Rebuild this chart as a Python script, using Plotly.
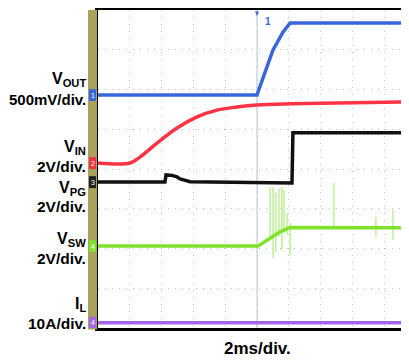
import plotly.graph_objects as go

# ---- data (x in ms at 2 ms/div, y in screen divisions 0..8) ----
vout_t = [0.0, 10.0, 10.06, 10.38, 11.0, 11.64, 12.08, 19.56]
vout_y = [5.86, 5.86, 5.93, 6.31, 6.99, 7.45, 7.67, 7.67]

vin_t = [0.0, 2.01, 2.64, 3.71, 4.97, 6.23, 7.48, 8.74, 10.0, 12.08, 19.56]
vin_y = [4.15, 4.15, 4.30, 4.65, 5.03, 5.31, 5.48, 5.56, 5.61, 5.64, 5.69]

vpg_t = [0.0, 4.21, 4.28, 4.65, 4.97, 5.16, 5.79, 12.2, 12.26, 19.56]
vpg_y = [3.67, 3.67, 3.85, 3.84, 3.80, 3.75, 3.68, 3.65, 4.91, 4.91]

vsw_t = [0.0, 10.06, 10.82, 11.45, 12.08, 19.56]
vsw_y = [2.06, 2.06, 2.26, 2.42, 2.53, 2.52]

spike_t = [10.82, 11.01, 11.19, 11.38, 11.57, 11.70, 11.89, 12.08, 14.84, 17.48, 18.55]
spike_top = [3.55, 3.55, 3.40, 3.52, 3.55, 3.47, 2.89, 2.64, 3.65, 2.79, 2.97]
spike_bot = [2.20, 1.76, 1.91, 2.30, 1.96, 2.40, 2.35, 1.84, 2.50, 2.29, 2.21]

il_t = [0.0, 10.06, 12.5, 19.56]
il_y = [0.13, 0.14, 0.14, 0.13]

labels = [("V<sub>OUT</sub>", 6.24, 16), ("500mV/div.", 5.76, 15),
          ("V<sub>IN</sub>", 4.53, 16), ("2V/div.", 4.06, 15.5),
          ("V<sub>PG</sub>", 3.51, 16), ("2V/div.", 3.05, 15.5),
          ("V<sub>SW</sub>", 2.22, 16), ("2V/div.", 1.76, 15.5),
          ("I<sub>L</sub>", 0.58, 16), ("10A/div.", 0.11, 15.5)]

markers = [("1", 5.86, "#3a66dd"), ("2", 4.15, "#ee3344"), ("3", 3.67, "#222222"),
           ("4", 2.06, "#7fe030"), ("4", 0.13, "#a666e8")]

BLUE, RED, BLACK, GREEN, PURPLE = "#3a66dd", "#ff3344", "#111111", "#80e22a", "#a666e8"

# page body has an 8px margin -> shift everything up/left by 8px
OFF = 8
L = 98 - OFF

fig = go.Figure()
sx, sy = [], []
for t, a, b in zip(spike_t, spike_top, spike_bot):
    sx += [t, t, None]
    sy += [b, a, None]
fig.add_trace(go.Scatter(x=sx, y=sy, mode="lines", line=dict(color="#9be860", width=1)))
fig.add_trace(go.Scatter(x=il_t, y=il_y, mode="lines", line=dict(color=PURPLE, width=3.5)))
fig.add_trace(go.Scatter(x=vsw_t, y=vsw_y, mode="lines", line=dict(color=GREEN, width=3.5)))
fig.add_trace(go.Scatter(x=vpg_t, y=vpg_y, mode="lines", line=dict(color=BLACK, width=3.5)))
fig.add_trace(go.Scatter(x=vin_t, y=vin_y, mode="lines", line=dict(color=RED, width=3.5, shape="spline")))
fig.add_trace(go.Scatter(x=vout_t, y=vout_y, mode="lines", line=dict(color=BLUE, width=3.5)))

W = 311.0
def px2paper(px):
    return (px - 98) / W

shapes = [
    dict(type="rect", xref="paper", yref="paper", x0=px2paper(88), x1=px2paper(97), y0=-0.005, y1=1.0,
         fillcolor="#aaa25a", line=dict(width=0), layer="above"),
    dict(type="line", xref="x", yref="paper", x0=10.0, x1=10.0, y0=0, y1=1,
         line=dict(color="#b4c2d0", width=1), layer="below"),
    dict(type="path", xref="paper", yref="paper",
         path=f"M {px2paper(255)} 0.995 L {px2paper(259)} 0.995 L {px2paper(257)} 0.98 Z",
         fillcolor=BLUE, line=dict(width=0)),
]
for txt, yv, col in markers:
    shapes.append(dict(type="rect", xref="paper", yref="y", x0=px2paper(89), x1=px2paper(96),
                       y0=yv - 0.15, y1=yv + 0.15, fillcolor=col, line=dict(width=0), layer="above"))

ann = []
for txt, yv, fs in labels:
    ann.append(dict(text=txt, xref="paper", yref="y", x=px2paper(86.5), y=yv, xanchor="right",
                    yanchor="middle", showarrow=False, borderpad=0,
                    font=dict(family="Liberation Sans, Arial", size=fs, color="black", weight="bold")))
for txt, yv, col in markers:
    ann.append(dict(text=txt, xref="paper", yref="y", x=px2paper(92.5), y=yv, xanchor="center",
                    yanchor="middle", showarrow=False, borderpad=0,
                    font=dict(family="Liberation Sans, Arial", size=7, color="white")))
ann.append(dict(text="1", xref="x", yref="paper", x=10.7, y=0.965, yanchor="middle", showarrow=False,
                font=dict(family="Liberation Sans, Arial", size=10, color=BLUE, weight="bold")))
ann.append(dict(text="2ms/div.", xref="paper", yref="paper", x=px2paper(257.5), y=-0.066,
                xanchor="center", yanchor="middle", showarrow=False, borderpad=0,
                font=dict(family="Liberation Sans, Arial", size=17, color="black", weight="bold")))

fig.update_layout(
    width=409 - OFF, height=360 - OFF,
    margin=dict(l=L, r=0, t=10 - OFF, b=32, pad=0),
    paper_bgcolor="white", plot_bgcolor="white",
    showlegend=False,
    shapes=shapes, annotations=ann,
    xaxis=dict(range=[0, 19.56], dtick=2, showticklabels=False, ticks="",
               showgrid=True, gridcolor="#c0c0c0", griddash="1px,6px", gridwidth=1,
               showline=True, linecolor="black", linewidth=3, mirror=True, zeroline=False,
               fixedrange=True),
    yaxis=dict(range=[0, 8], dtick=1, showticklabels=False, ticks="",
               showgrid=True, gridcolor="#c0c0c0", griddash="1px,6px", gridwidth=1,
               showline=True, linecolor="black", linewidth=3, mirror=False, zeroline=False,
               fixedrange=True),
)

fig.write_html("out.html")
